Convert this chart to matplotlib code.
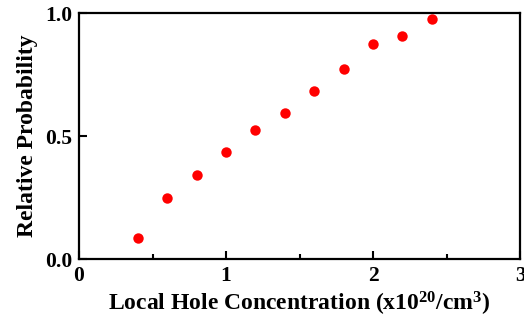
import numpy as np
import matplotlib
matplotlib.use('Agg')
import matplotlib.pyplot as plt
from matplotlib.ticker import MultipleLocator

# data
conc = [0.4, 0.6, 0.8, 1.0, 1.2, 1.4, 1.6, 1.8, 2.0, 2.2, 2.4]
prob = [0.086, 0.248, 0.343, 0.437, 0.526, 0.592, 0.685, 0.773, 0.872, 0.907, 0.976]

plt.rcParams['font.family'] = ['Liberation Serif', 'DejaVu Serif']
plt.rcParams['font.weight'] = 'bold'
plt.rcParams['mathtext.fontset'] = 'custom'
plt.rcParams['mathtext.rm'] = 'Liberation Serif:bold'
plt.rcParams['mathtext.bf'] = 'Liberation Serif:bold'
plt.rcParams['mathtext.it'] = 'Liberation Serif:bold'
plt.rcParams['mathtext.default'] = 'rm'

fig = plt.figure(figsize=(5.24, 3.21), dpi=100)
ax = fig.add_axes([0.1508, 0.193, 0.8416, 0.7665])

ax.plot(conc, prob, 'o', color='#ff0000', markersize=7.5, markeredgewidth=0, clip_on=False)

ax.set_xlim(0, 3)
ax.set_ylim(0, 1)
ax.xaxis.set_major_locator(MultipleLocator(1))
ax.xaxis.set_minor_locator(MultipleLocator(0.5))
ax.set_yticks([0, 0.5, 1.0])
ax.set_yticklabels(['0.0', '0.5', '1.0'])

ax.tick_params(which='major', direction='in', length=6, width=1.5, labelsize=15.5, pad=5)
ax.tick_params(which='minor', direction='in', length=3.5, width=1.5)
for s in ax.spines.values():
    s.set_linewidth(1.6)

ax.set_xlabel(r'Local Hole Concentration (x10$^{20}$/cm$^{3}$)', fontsize=17, fontweight='bold', labelpad=3)
ax.set_ylabel('Relative Probability', fontsize=17, fontweight='bold', labelpad=5)

fig.savefig('out.png', dpi=100)
